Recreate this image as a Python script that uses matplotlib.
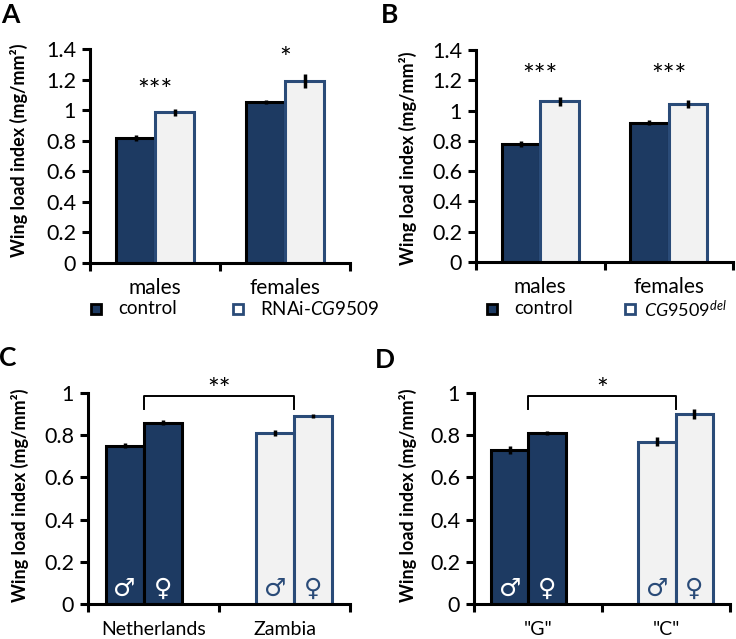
#
# Wing load index panels A-D (bar charts with SEM error bars)
#
import matplotlib
matplotlib.use("Agg")
import matplotlib.pyplot as plt
from matplotlib.lines import Line2D

plt.rcParams['font.family'] = ['Lato', 'DejaVu Sans']
plt.rcParams['mathtext.fontset'] = 'custom'
plt.rcParams['mathtext.rm'] = 'Lato'
plt.rcParams['mathtext.it'] = 'Lato:italic'

# ---- data ----
sexes = ['males', 'females']
a_control = [0.815, 1.055]
a_control_err = [0.02, 0.012]
a_rnai = [0.985, 1.19]
a_rnai_err = [0.022, 0.045]
a_stars = ['***', '*']
a_star_y = [1.12, 1.33]

b_control = [0.78, 0.92]
b_control_err = [0.018, 0.018]
b_del = [1.06, 1.045]
b_del_err = [0.028, 0.025]
b_stars = ['***', '***']
b_star_y = [1.22, 1.22]

c_groups = ['Netherlands', 'Zambia']
c_male = [0.75, 0.81]
c_male_err = [0.012, 0.016]
c_female = [0.86, 0.89]
c_female_err = [0.012, 0.01]
c_star = '**'

d_groups = ['"G"', '"C"']
d_male = [0.73, 0.77]
d_male_err = [0.02, 0.02]
d_female = [0.81, 0.90]
d_female_err = [0.008, 0.022]
d_star = '*'

# ---- style ----
dark = '#1D3A62'
light = '#F2F2F2'
light_edge = '#2A4B78'
W, H = 736, 639

fig = plt.figure(figsize=(W / 100, H / 100), dpi=100)


def px_axes(left, right, bottom, top):
    return fig.add_axes([left / W, 1 - bottom / H, (right - left) / W, (bottom - top) / H])


def style_axes(ax, ymax, step, labels, cat_size, cat_pad):
    ax.set_xlim(0, 2)
    ax.set_ylim(0, ymax)
    ax.spines['top'].set_visible(False)
    ax.spines['right'].set_visible(False)
    ax.spines['left'].set_linewidth(2.2)
    ax.spines['bottom'].set_linewidth(2.2)
    yt = [round(i * step, 1) for i in range(int(round(ymax / step)) + 1)]
    ax.set_yticks(yt)
    ax.set_yticklabels([f'{v:g}' for v in yt])
    ax.set_xticks([0, 1, 2])
    ax.set_xticklabels([])
    ax.set_xticks([0.5, 1.5], minor=True)
    ax.set_xticklabels(labels, minor=True)
    ax.tick_params(axis='both', which='major', width=2.2, length=6, labelsize=15.5, pad=4)
    ax.tick_params(axis='x', which='minor', length=0, labelsize=cat_size, pad=cat_pad)


def bars(ax, x, vals, errs, fill, edge, w):
    ax.bar(x, vals, width=w, color=fill, edgecolor=edge, linewidth=2.2, zorder=2)
    ax.errorbar(x, vals, yerr=errs, fmt='none', ecolor='black', elinewidth=2.5,
                capsize=0, zorder=3)


def ylabel(x, y):
    fig.text(x / W, 1 - y / H, 'Wing load index (mg/mm²)', rotation=90,
             ha='center', va='center', fontsize=13, fontweight='bold')


def legend_item(x, y, face, edge, label, gap=22, size=13.5):
    fig.add_artist(Line2D([x / W], [1 - y / H], transform=fig.transFigure, marker='s',
                          markersize=7.5, markerfacecolor=face, markeredgecolor=edge,
                          markeredgewidth=2, linestyle='None'))
    fig.text((x + gap) / W, 1 - y / H, label, ha='left', va='center', fontsize=size)


# ---- panel A ----
axA = px_axes(90, 350, 263, 49)
xc = [0.5, 1.5]
bars(axA, [x - 0.15 for x in xc], a_control, a_control_err, dark, 'black', 0.3)
bars(axA, [x + 0.15 for x in xc], a_rnai, a_rnai_err, light, light_edge, 0.3)
for x, s, y in zip(xc, a_stars, a_star_y):
    axA.text(x, y, s, ha='center', va='center', fontsize=20)
style_axes(axA, 1.4, 0.2, sexes, 15, 11)
ylabel(19, 150)
legend_item(96, 309, dark, 'black', 'control')
legend_item(238, 309, 'white', light_edge, r'RNAi-$\mathit{CG9509}$')

# ---- panel B ----
axB = px_axes(476, 733, 262, 50)
bars(axB, [x - 0.15 for x in xc], b_control, b_control_err, dark, 'black', 0.3)
bars(axB, [x + 0.15 for x in xc], b_del, b_del_err, light, light_edge, 0.3)
for x, s, y in zip(xc, b_stars, b_star_y):
    axB.text(x, y, s, ha='center', va='center', fontsize=20)
style_axes(axB, 1.4, 0.2, sexes, 15, 11)
ylabel(408, 158)
legend_item(492, 309, dark, 'black', 'control')
legend_item(630, 309, 'white', light_edge, r'$\mathit{CG9509}^{\mathit{del}}$',
            gap=14, size=13)


# ---- panels C and D ----
def sex_panel(ax, male, male_err, female, female_err, groups, star):
    xm = [0.28, 1.43]
    xf = [0.57, 1.72]
    bars(ax, [xm[0]], [male[0]], [male_err[0]], dark, 'black', 0.29)
    bars(ax, [xf[0]], [female[0]], [female_err[0]], dark, 'black', 0.29)
    bars(ax, [xm[1]], [male[1]], [male_err[1]], light, light_edge, 0.29)
    bars(ax, [xf[1]], [female[1]], [female_err[1]], light, light_edge, 0.29)
    for x, sym, col in [(xm[0], '♂', 'white'), (xf[0], '♀', 'white'),
                        (xm[1], '♂', light_edge), (xf[1], '♀', light_edge)]:
        ax.text(x, 0.07, sym, ha='center', va='center', fontsize=18, color=col,
                family=['DejaVu Sans'], zorder=4)
    left, right = 0.425, 1.575
    ax.plot([left, left, right, right], [0.925, 0.985, 0.985, 0.925], color='black',
            linewidth=1.4, clip_on=False)
    ax.text(1.0, 1.01, star, ha='center', va='center', fontsize=20, clip_on=False)
    style_axes(ax, 1.0, 0.2, groups, 14, 12)


axC = px_axes(88, 350, 604, 393)
sex_panel(axC, c_male, c_male_err, c_female, c_female_err, c_groups, c_star)
ylabel(20, 495)

axD = px_axes(474, 730, 604, 393)
sex_panel(axD, d_male, d_male_err, d_female, d_female_err, d_groups, d_star)
ylabel(408, 495)

# ---- panel letters ----
for x, y, letter in [(10, 15, 'A'), (390, 15, 'B'), (8, 358, 'C'), (385, 360, 'D')]:
    fig.text(x / W, 1 - y / H, letter, ha='center', va='center', fontsize=19,
             fontweight='bold')

plt.savefig('out.png', dpi=100)
